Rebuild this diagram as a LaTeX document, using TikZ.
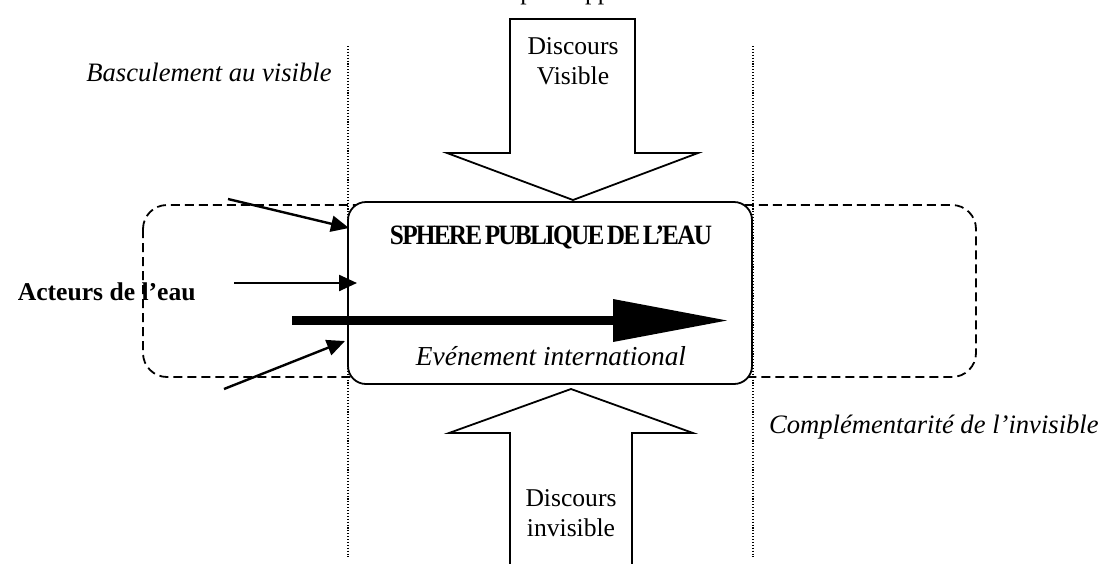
\documentclass[tikz,border=0pt]{standalone}
\usepackage{fontspec}
\usepackage{graphicx}
\setmainfont{Liberation Serif}
\usetikzlibrary{arrows.meta}

\tikzset{
  guide/.style={line width=0.55pt, dash pattern=on 0.55pt off 0.9pt},
  scopeframe/.style={draw, line width=0.9pt, dash pattern=on 4.5pt off 2.5pt, rounded corners=12pt},
  spherebox/.style={draw, line width=0.9pt, rounded corners=9pt, fill=white,
    minimum width=202pt, minimum height=91pt, inner sep=0pt},
  blockarrow/.style={draw, line width=0.9pt, fill=white, line join=miter},
  feed/.style={line width=1.2pt, -{Triangle[length=9pt,width=8pt]}},
  flow/.style={line width=4.5pt, -{Triangle[length=57pt,width=21.5pt,line width=0pt]}},
  txt/.style={inner sep=0pt, font=\fontsize{12.8pt}{15pt}\selectfont},
  twoline/.style={txt, align=center},
  sidenote/.style={txt, font=\fontsize{13.3pt}{15pt}\selectfont\itshape},
}

\begin{document}
\begin{tikzpicture}[x=0.5pt, y=-0.5pt]
\useasboundingbox (0,0) rectangle (1102,563);

% caption line above, cut by the page edge
\node[txt, anchor=base west] (caption) at (520,-0.5) {pour appui};

% dashed scope of the water actors
\draw[scopeframe] (143,205) rectangle (976,377);

% downward block arrow
\draw[blockarrow] (510,19) -- (635,19) -- (635,153) -- (698,153) -- (573,200)
  -- (447,153) -- (510,153) -- cycle;
\node[twoline] (visible) at (573,61) {Discours\\Visible};

% upward block arrow
\draw[blockarrow] (571,389) -- (693,433) -- (632,433) -- (632,580) -- (510,580)
  -- (510,433) -- (449,433) -- cycle;
\node[twoline] (invisible) at (571,513) {Discours\\invisible};

% public sphere
\node[spherebox] (sphere) at (550,293) {};
\node[txt, anchor=base] (title) at (551,244)
  {\resizebox{161pt}{\height}{\fontsize{14pt}{16pt}\selectfont\bfseries
   \addfontfeature{LetterSpace=-7}\spaceskip=0.1em SPHERE PUBLIQUE DE L’EAU}};
\node[txt, anchor=base, font=\fontsize{13.7pt}{16pt}\selectfont\itshape] (event) at (551,365)
  {Evénement international};

% dotted boundaries
\coordinate (gl1) at (348,46);
\coordinate (gl2) at (348,557);
\coordinate (gr1) at (753,46);
\coordinate (gr2) at (753,557);
\draw[guide] (gl1) -- (gl2);
\draw[guide] (gr1) -- (gr2);

% actors
\node[txt, anchor=base east, font=\fontsize{12.8pt}{15pt}\selectfont\bfseries] (actors) at (196,300)
  {Acteurs de l’eau};

\coordinate (s1) at (228,199);
\coordinate (e1) at (349,228);
\coordinate (s2) at (234,283);
\coordinate (e2) at (357,283);
\coordinate (s3) at (224,389);
\coordinate (e3) at (345,341);
\draw[feed] (s1) -- (e1);
\draw[feed] (s2) -- (e2);
\draw[feed] (s3) -- (e3);

% main flow through the sphere
\coordinate (f0) at (292,320.5);
\coordinate (f1) at (727,320.5);
\draw[flow] (f0) -- (f1);

% side captions
\node[sidenote, anchor=base east] (left) at (332,81) {Basculement au visible};
\node[sidenote, anchor=base east] (right) at (1099,433) {Complémentarité de l’invisible};
\end{tikzpicture}
\end{document}
